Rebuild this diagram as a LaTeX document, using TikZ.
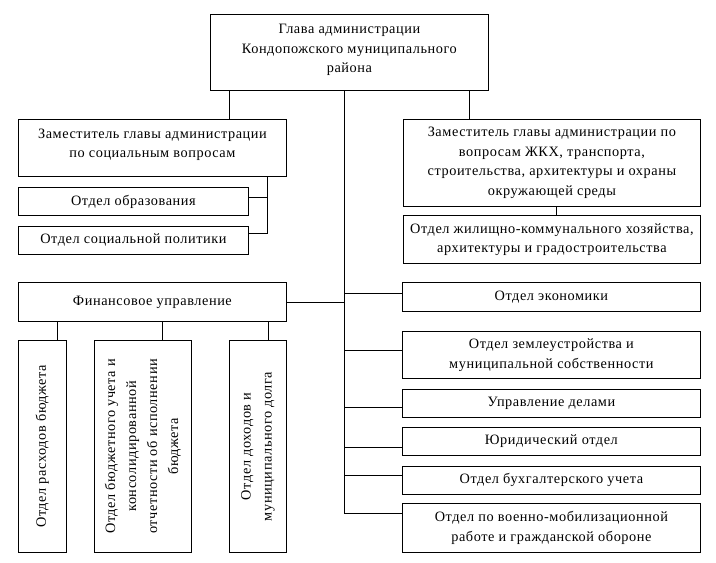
\documentclass[tikz,border=0pt]{standalone}
\usepackage{fontspec}
\setmainfont[LetterSpace=4]{Liberation Serif}
\begin{document}
\begin{tikzpicture}[x=1pt,y=-1pt,
  txt/.style={align=center, inner sep=0pt, font=\fontsize{14.3}{19.5}\selectfont},
  box/.style={draw, line width=0.8pt, txt, anchor=north west},
  conn/.style={line width=0.8pt}]
\useasboundingbox (0,0) rectangle (716,563);
% boxes
\node[box, minimum width=278, minimum height=76] (top) at (210,14) {Глава администрации\\Кондопожского муниципального\\района\\[-12pt]};
\node[box, minimum width=268, minimum height=57] (dl) at (18,119) {Заместитель главы администрации\\по социальным вопросам\\[-10.5pt]};
\node[box, minimum width=230, minimum height=28] (edu) at (18,187) {Отдел образования};
\node[box, minimum width=230, minimum height=28] (soc) at (18,226) {Отдел социальной политики};
\node[box, minimum width=297, minimum height=87] (rd) at (403,119) {Заместитель главы администрации по\\вопросам ЖКХ, транспорта,\\строительства, архитектуры и охраны\\окружающей среды};
\node[box, minimum width=297, minimum height=48] (zkh) at (403,215) {Отдел жилищно-коммунального хозяйства,\\архитектуры и градостроительства};
\node[box, minimum width=268, minimum height=39] (fin) at (18,282) {Финансовое управление};
\node[box, minimum width=48, minimum height=212] (v1) at (18,340) {};
\node[box, minimum width=97, minimum height=212] (v2) at (94,340) {};
\node[box, minimum width=57, minimum height=212] (v3) at (229,340) {};
\node[txt, rotate=90, font=\fontsize{14.3}{21}\selectfont] (t1) at (v1.center) {Отдел расходов бюджета};
\node[txt, rotate=90, font=\fontsize{14.3}{21}\selectfont] (t2) at (v2.center) {Отдел бюджетного учета и\\консолидированной\\отчетности об исполнении\\бюджета};
\node[txt, rotate=90, font=\fontsize{14.3}{21}\selectfont] (t3) at (v3.center) {Отдел доходов и\\муниципального долга};
\node[box, minimum width=298, minimum height=29] (econ) at (402,282) {Отдел экономики};
\node[box, minimum width=298, minimum height=47] (zem) at (402,331) {Отдел землеустройства и\\муниципальной собственности};
\node[box, minimum width=298, minimum height=28] (del) at (402,389) {Управление делами};
\node[box, minimum width=298, minimum height=28] (jur) at (402,427) {Юридический отдел};
\node[box, minimum width=298, minimum height=28] (buh) at (402,466) {Отдел бухгалтерского учета};
\node[box, minimum width=298, minimum height=49] (mil) at (402,503) {Отдел по военно-мобилизационной\\работе и гражданской обороне};
% junction coordinates
\coordinate (jl) at (229,0);
\coordinate (jr) at (469,0);
\coordinate (trunk) at (344,0);
\coordinate (a1) at (267,197);
\coordinate (a2) at (267,233);
\coordinate (jz) at (556,0);
\coordinate (f1) at (57,0);
\coordinate (f2) at (162,0);
\coordinate (f3) at (268,0);
\coordinate (cE) at (344,293);
\coordinate (cZ) at (344,350);
\coordinate (cD) at (344,407);
\coordinate (cJ) at (344,447);
\coordinate (cB) at (344,475);
\coordinate (cM) at (344,513);
% connectors
\draw[conn] (top.south -| jl) -- (dl.north -| jl);
\draw[conn] (top.south -| jr) -- (rd.north -| jr);
\draw[conn] (top.south -| trunk) -- (cM);
\draw[conn] (dl.south -| a1) -- (a2) -- (a2 -| soc.east);
\draw[conn] (a1) -- (a1 -| edu.east);
\draw[conn] (rd.south -| jz) -- (zkh.north -| jz);
\draw[conn] (fin.east) -- (fin.east -| trunk);
\draw[conn] (fin.south -| f1) -- (v1.north -| f1);
\draw[conn] (fin.south -| f2) -- (v2.north -| f2);
\draw[conn] (fin.south -| f3) -- (v3.north -| f3);
\draw[conn] (cE) -- (cE -| econ.west);
\draw[conn] (cZ) -- (cZ -| zem.west);
\draw[conn] (cD) -- (cD -| del.west);
\draw[conn] (cJ) -- (cJ -| jur.west);
\draw[conn] (cB) -- (cB -| buh.west);
\draw[conn] (cM) -- (cM -| mil.west);
\end{tikzpicture}
\end{document}
